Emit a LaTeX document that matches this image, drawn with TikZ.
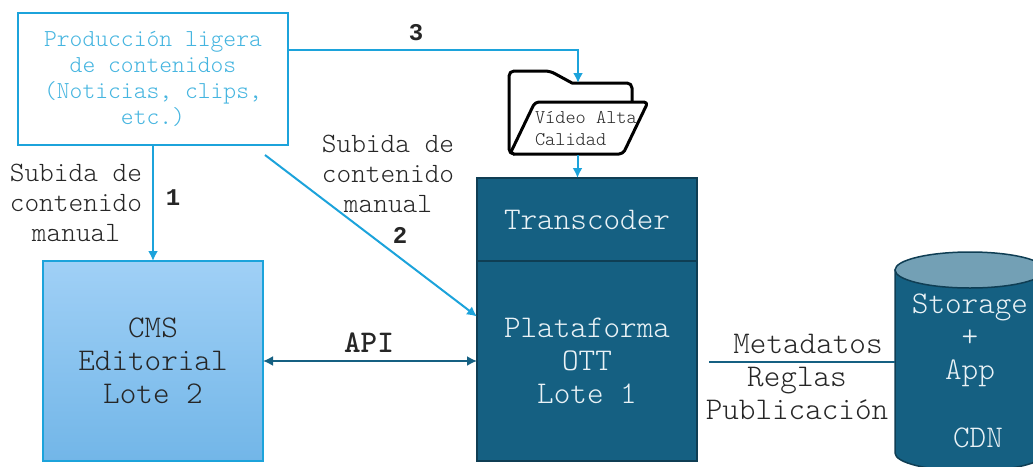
\documentclass[tikz,border=0pt]{standalone}
\usepackage{fontspec}
\newfontfamily\numfamily{Liberation Mono}
\usetikzlibrary{arrows.meta}

\definecolor{skyline}{HTML}{1CA3DB}
\definecolor{skytext}{HTML}{45B5E0}
\definecolor{cmstop}{HTML}{A0D0F6}
\definecolor{cmsbottom}{HTML}{72B6E8}
\definecolor{platblue}{HTML}{156082}
\definecolor{platdark}{HTML}{0F3E54}
\definecolor{platlight}{HTML}{73A0B5}
\definecolor{ottlight}{HTML}{E9F2F6}
\definecolor{inkgrey}{HTML}{262626}

\tikzset{
  every node/.style={inner sep=0pt, outer sep=0pt, align=center, text=inkgrey},
  >={Latex[length=10pt,width=10pt]},
  platbox/.style={draw=platdark, line width=1.5pt, fill=platblue, text=ottlight, minimum width=220pt},
  skyarrow/.style={draw=skyline, line width=2pt, ->},
  labelfont/.style={font=\ttfamily\fontseries{l}\fontsize{28}{30}\selectfont},
  boxfont/.style={font=\ttfamily\fontseries{l}\fontsize{31.6}{33}\selectfont},
  numfont/.style={font=\numfamily\bfseries\fontsize{24}{28}\selectfont}
}

\begin{document}
\begin{tikzpicture}[x=1pt, y=-1pt]
  % Page frame, the cylinder runs over the right edge
  \clip (0,0) rectangle (1033,466);

  % Source box
  \node[draw=skyline, line width=1.5pt, fill=white, text=skytext, minimum width=270pt, minimum height=132pt,
        font=\ttfamily\fontseries{l}\fontsize{24.4}{26}\selectfont] (prod) at (153,79)
        {Producción ligera\\de contenidos\\(Noticias, clips,\\etc.)};

  % Editorial box
  \node[draw=skyline, line width=1.2pt, top color=cmstop, bottom color=cmsbottom, minimum width=220pt, minimum height=200pt, boxfont] (cms) at (153,361)
        {CMS\\Editorial\\Lote 2};

  % Platform boxes
  \node[platbox, minimum height=83pt, boxfont] (transcoder) at (587,219.5) {Transcoder};
  \node[platbox, minimum height=200pt, boxfont] (plataforma) at (587,361) {Plataforma\\OTT\\Lote 1};

  % Folder
  \node[minimum width=141pt, minimum height=85pt] (folder) at (577.5,112.5) {};
  \coordinate (foldertop) at (578,83);
  \draw[line width=3pt, line join=round, rounded corners=5pt, fill=white]
    (513,154) -- (509,154) -- (509,71) -- (550,71) [sharp corners] -- (572,83) [rounded corners=5pt] -- (632,83) -- (632,110) -- (513,154);
  \draw[line width=3pt, line join=round, rounded corners=4pt, fill=white]
    (510,154) -- (535,102) -- (648,102) -- (623,154) -- cycle;
  \node[anchor=west, align=left, font=\ttfamily\fontseries{l}\fontsize{19.4}{22}\selectfont] (foldertext) at (535,129) {Vídeo Alta\\Calidad};

  % Storage cylinder
  \node[minimum width=150pt, minimum height=200pt] (storage) at (970,362) {};
  \draw[draw=platdark, line width=1.5pt, fill=platblue]
    (895,270) -- (895,453) arc[start angle=180, end angle=0, x radius=75, y radius=18] -- (1045,270) -- cycle;
  \draw[draw=platdark, line width=1.5pt, fill=platlight] (970,270) ellipse [x radius=75, y radius=18];
  \node[text=ottlight, boxfont] (storagetext) at (970,340) {Storage\\+\\App};
  \node[text=ottlight, boxfont] (cdn) at (978,438) {CDN};

  % Connectors
  \draw[skyarrow] (prod.south) -- (cms.north);
  \coordinate (diagstart) at (265,155);
  \draw[skyarrow] (diagstart) -- (plataforma.158);
  \draw[skyarrow] (prod.12.5) -| (foldertop);
  \draw[skyarrow] (folder.south) -- (folder.south |- transcoder.north);
  \draw[draw=platblue, line width=1.8pt, <->] (cms.east) -- (plataforma.west);
  \coordinate (metastart) at (709,362);
  \draw[draw=platblue, line width=2pt] (metastart) -- (storage.west);

  % Labels
  \node[labelfont] (subida1) at (76,203) {Subida de\\contenido\\manual};
  \node[labelfont] (subida2) at (388,174) {Subida de\\contenido\\manual};
  \node[numfont] (num1) at (173,198) {1};
  \node[numfont] (num2) at (400,235) {2};
  \node[numfont] (num3) at (416,33) {3};
  \node[font=\ttfamily\fontseries{b}\fontsize{31.6}{33}\selectfont] (api) at (369,343) {API};
  \node[boxfont] (metadatos) at (808,344) {Metadatos};
  \node[boxfont] (reglas) at (797,393.5) {Reglas\\Publicación};
\end{tikzpicture}
\end{document}
